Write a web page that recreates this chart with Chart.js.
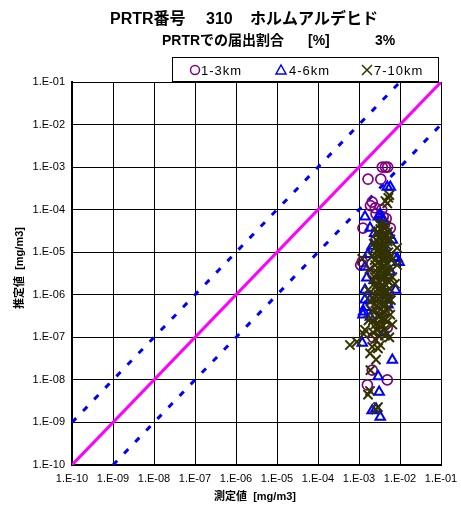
<!DOCTYPE html>
<html><head><meta charset="utf-8">
<script src="https://cdn.jsdelivr.net/npm/chart.js@4.4.1/dist/chart.umd.min.js"></script>
<style>html,body{margin:0;padding:0;background:#fff}#c{display:block}</style>
</head><body>
<canvas id="c" width="461" height="509"></canvas>
<script>
// ---- text ----
const titleParts = ['PRTR番号', '310', 'ホルムアルデヒド'];
const subtitleParts = ['PRTRでの届出割合', '[%]', '3%'];
const seriesNames = ['1-3km', '4-6km', '7-10km'];
const xAxisTitle = '測定値  [mg/m3]';
const yAxisTitle = '推定値  [mg/m3]';
const tickValues = [1e-10, 1e-9, 1e-8, 1e-7, 1e-6, 1e-5, 1e-4, 1e-3, 1e-2, 1e-1];

// ---- reference lines [x, y] ----
const lineOneToOne = [[1e-10, 1e-10], [1e-1, 1e-1]];
const lineUpperTen = [[1e-10, 1e-9], [1e-2, 1e-1]];
const lineLowerTen = [[1e-9, 1e-10], [1e-1, 1e-2]];

// ---- series: [measured, estimated] ----
const km1to3 = [
 [3.7e-3,1e-3],[4.4e-3,1e-3],[5.0e-3,1e-3],
 [1.66e-3,5.2e-4],[3.4e-3,5.2e-4],
 [2.1e-3,1.5e-4],[1.9e-3,1.25e-4],[2.5e-3,1.1e-4],[3.6e-3,1e-4],[2.6e-3,8e-5],
 [3.9e-3,6.8e-5],[4.6e-3,6.2e-5],
 [1.25e-3,3.7e-5],[5.8e-3,3.7e-5],[4.2e-3,4.5e-5],
 [2.6e-3,2e-5],[3.4e-3,1.2e-5],[4.6e-3,8e-6],[1.2e-3,6e-6],[1.1e-3,5e-6],
 [2.2e-3,3e-6],[3.9e-3,2e-6],[5.2e-3,1e-6],[2.8e-3,6e-7],[4.1e-3,4e-7],
 [4.9e-3,1.7e-7],[3.3e-3,1.4e-7],[2.2e-3,1e-7],
 [2.1e-3,1.7e-8],[4.9e-3,1e-8],[1.6e-3,7.6e-9]
];
const km4to6 = [
 [5.8e-3,3.4e-4],[4.9e-3,3.4e-4],
 [1.4e-3,6.8e-5],[2.95e-3,6.8e-5],[3.3e-3,7.8e-5],[3.7e-3,6e-5],
 [1.86e-3,3.7e-5],[3.9e-3,3.3e-5],[2.4e-3,2.8e-5],[5.5e-3,2.5e-5],[4.4e-3,2e-5],[6.5e-3,1.95e-5],
 [3.2e-3,1.6e-5],[2.1e-3,1.4e-5],[4.1e-3,1.2e-5],[1.66e-3,9e-6],
 [8.5e-3,7.2e-6],[7.3e-3,7.6e-6],[9.5e-3,5.8e-6],[1.4e-3,4.5e-6],[5.8e-3,3.5e-6],
 [1.55e-3,2.5e-6],[2.6e-3,2.2e-6],[1.4e-3,1.3e-6],[7.8e-3,1.3e-6],[4.6e-3,1e-6],
 [1.4e-3,7.6e-7],[1.86e-3,7.6e-7],[5.1e-3,5.8e-7],[1.4e-3,5.1e-7],[1.3e-3,4e-7],
 [1.25e-3,3.4e-7],[1.9e-3,3e-7],[2.9e-3,2.6e-7],[4.1e-3,1.3e-7],
 [1.2e-3,7.4e-8],[6.5e-3,2.95e-8],[2.95e-3,1.2e-8],[3.1e-3,5.2e-9],
 [2.6e-3,2.1e-9],[2.1e-3,1.9e-9],[3.3e-3,1.35e-9]
];
const km7to10 = [
 [5.5e-3,2.2e-4],[5.2e-3,1.9e-4],[4.4e-3,1.6e-4],[4.9e-3,1.4e-4],
 [3.9e-3,5e-5],[4.6e-3,4e-5],[3.3e-3,3.5e-5],[3.5e-3,3.4e-5],[5.1e-3,3e-5],[2.6e-3,2.8e-5],
 [4.1e-3,2.5e-5],[3.0e-3,2.2e-5],[4.2e-3,2.1e-5],[5.8e-3,2e-5],[3.6e-3,1.8e-5],
 [2.3e-3,1.6e-5],[3.1e-3,1.6e-5],[4.6e-3,1.5e-5],[3.3e-3,1.3e-5],[8.5e-3,1.26e-5],
 [4.3e-3,1.2e-5],[2.8e-3,1.1e-5],[3.5e-3,1e-5],[5.2e-3,1e-5],[3.9e-3,9e-6],
 [2.1e-3,8e-6],[2.9e-3,8e-6],[1.2e-3,7e-6],[4.4e-3,7e-6],[6.2e-3,6.5e-6],[3.8e-3,6.5e-6],
 [3.1e-3,6e-6],[4.9e-3,5.5e-6],[2.5e-3,5e-6],[8.5e-3,5e-6],[3.7e-3,4.5e-6],[5.5e-3,4.2e-6],
 [1.8e-3,4e-6],[3.3e-3,3.8e-6],[4.2e-3,3.6e-6],[2.9e-3,3.2e-6],[2.6e-3,3e-6],
 [3.5e-3,2.8e-6],[4.6e-3,2.8e-6],[6.5e-3,2.6e-6],[3.9e-3,2.4e-6],[2.2e-3,2.3e-6],
 [4.8e-3,2.2e-6],[3.2e-3,2e-6],[7.5e-3,1.8e-6],[2.7e-3,1.7e-6],[4e-3,1.5e-6],
 [2.9e-3,1.4e-6],[5.6e-3,1.4e-6],[1.66e-3,1.3e-6],[3.4e-3,1.2e-6],[4.2e-3,1.2e-6],
 [2.4e-3,1e-6],[3.7e-3,1e-6],[4.5e-3,9e-7],[3.1e-3,8e-7],[6e-3,7.5e-7],[1.9e-3,7e-7],
 [3.8e-3,6.5e-7],[2.7e-3,5.5e-7],[5.2e-3,5e-7],[3.3e-3,4.5e-7],[2.1e-3,4.2e-7],
 [4.3e-3,3.8e-7],[5.8e-3,3.4e-7],[2.9e-3,3.2e-7],[3.7e-3,2.8e-7],[1.7e-3,2.5e-7],
 [4.8e-3,2.3e-7],[2.5e-3,2e-7],[6.5e-3,2e-7],[3.4e-3,1.8e-7],[1.4e-3,1.5e-7],
 [4.1e-3,1.5e-7],[2.2e-3,1.3e-7],[1.3e-3,1.2e-7],[3.0e-3,1.1e-7],[5.5e-3,1e-7],
 [8.9e-4,7.8e-8],[6e-4,6.6e-8],[3.3e-3,6.6e-8],[2.9e-3,5.5e-8],[1.86e-3,4.2e-8],
 [2.6e-3,3e-8],[1.9e-3,1.7e-8],[1.86e-3,5.5e-9],[1.66e-3,4.5e-9],[2.9e-3,2.3e-9],[2.6e-3,2e-9],
 [3.2e-3,4.5e-5],[4.0e-3,3.8e-5],[2.9e-3,3e-5],[4.8e-3,2.6e-5],[3.6e-3,2.4e-5],[2.7e-3,1.9e-5],
 [4.0e-3,1.7e-5],[5.0e-3,1.8e-5],[3.8e-3,1.4e-5],[2.5e-3,1.3e-5],[3.0e-3,9.5e-6],[4.6e-3,9e-6],
 [5.8e-3,8e-6],[2.4e-3,6.5e-6],[3.4e-3,5.2e-6],[4.2e-3,4.8e-6],[2.9e-3,4.2e-6],[5.0e-3,3.4e-6],
 [3.8e-3,3e-6],[2.4e-3,2.6e-6],[3.4e-3,2.4e-6],[5.4e-3,2e-6],[2.5e-3,1.5e-6],[3.6e-3,1.6e-6],
 [4.8e-3,1.2e-6],[3e-3,1e-6],[5.2e-3,8e-7],[2.3e-3,7.8e-7],[3.5e-3,6e-7],[4.5e-3,6e-7],
 [2.5e-3,4.2e-7],[3.9e-3,4e-7],[3.1e-3,3e-7],[4.4e-3,2.7e-7],[2.2e-3,2.5e-7],[3.0e-3,2e-7],
 [3.9e-3,1.9e-7],[2.7e-3,1.5e-7],[3.5e-3,1.3e-7],[2.5e-3,9e-8],[4.3e-3,1.1e-7],[2.1e-3,6e-8]
];

const toXY = a => a.map(p => ({x: p[0], y: p[1]}));
const fmt = v => {
  const e = Math.round(Math.log10(v));
  return '1.E' + (e < 0 ? '-' : '+') + String(Math.abs(e)).padStart(2, '0');
};

const COL_CIRCLE = '#800080', COL_TRI = '#0000FF', COL_X = '#333300';
const LATIN = "'Liberation Sans', Arial, 'Noto Sans CJK JP', sans-serif";
const CJK = "'Liberation Sans', 'Noto Sans CJK JP', sans-serif";

const decor = {
  id: 'decor',
  afterDraw(chart) {
    const ctx = chart.ctx;
    ctx.save();
    ctx.fillStyle = '#000';
    ctx.textBaseline = 'middle';
    ctx.textAlign = 'left';
    // titles
    ctx.font = "bold 16px " + CJK;
    ctx.fillText(titleParts[0], 110, 20);
    ctx.fillText(titleParts[1], 206, 20);
    ctx.fillText(titleParts[2], 250, 20);
    ctx.font = "bold 14px " + CJK;
    ctx.fillText(subtitleParts[0], 162, 41);
    ctx.fillText(subtitleParts[1], 308, 41);
    ctx.fillText(subtitleParts[2], 375, 41);
    // legend box
    ctx.fillStyle = '#fff';
    ctx.fillRect(172.5, 57.5, 266, 24);
    ctx.strokeStyle = '#000';
    ctx.lineWidth = 1;
    ctx.strokeRect(172.5, 57.5, 266, 24);
    const ly = 70;
    ctx.strokeStyle = COL_CIRCLE; ctx.lineWidth = 1.5;
    ctx.beginPath(); ctx.arc(195, ly, 4.5, 0, Math.PI * 2); ctx.stroke();
    ctx.strokeStyle = COL_TRI;
    ctx.beginPath(); ctx.moveTo(281, ly - 5); ctx.lineTo(286, ly + 4); ctx.lineTo(276, ly + 4); ctx.closePath(); ctx.stroke();
    ctx.strokeStyle = COL_X;
    ctx.beginPath(); ctx.moveTo(362, ly - 5); ctx.lineTo(372, ly + 5); ctx.moveTo(372, ly - 5); ctx.lineTo(362, ly + 5); ctx.stroke();
    ctx.fillStyle = '#000';
    ctx.font = "13px " + LATIN;
    try { ctx.letterSpacing = '1px'; } catch (e) {}
    ctx.fillText(seriesNames[0], 201, ly + 1);
    ctx.fillText(seriesNames[1], 289, ly + 1);
    ctx.fillText(seriesNames[2], 374, ly + 1);
    try { ctx.letterSpacing = '0px'; } catch (e) {}
    // axis titles
    ctx.font = "bold 11px " + CJK;
    ctx.textAlign = 'center';
    ctx.fillText(xAxisTitle, 255, 497);
    ctx.translate(20, 268);
    ctx.rotate(-Math.PI / 2);
    ctx.fillText(yAxisTitle, 0, 0);
    ctx.restore();
  }
};

const axisCommon = {
  type: 'logarithmic',
  min: 1e-10, max: 1e-1,
  afterBuildTicks: s => { s.ticks = tickValues.map(v => ({value: v})); },
  grid: {color: '#000', lineWidth: 1, drawTicks: false},
  border: {color: '#000', width: 2},
};

new Chart(document.getElementById('c'), {
  type: 'scatter',
  data: {
    datasets: [
      {label: seriesNames[2], data: toXY(km7to10), order: 0, pointStyle: 'crossRot', pointRadius: 6.5, borderColor: COL_X, backgroundColor: COL_X, borderWidth: 2},
      {label: seriesNames[1], data: toXY(km4to6), order: 1, pointStyle: 'triangle', pointRadius: 5.5, borderColor: COL_TRI, backgroundColor: 'rgba(0,0,0,0)', borderWidth: 2},
      {label: seriesNames[0], data: toXY(km1to3), order: 2, pointStyle: 'circle', pointRadius: 5, borderColor: COL_CIRCLE, backgroundColor: 'rgba(0,0,0,0)', borderWidth: 1.7},
      {data: toXY(lineOneToOne), order: 3, showLine: true, pointRadius: 0, borderColor: '#FF00FF', borderWidth: 3},
      {data: toXY(lineUpperTen), order: 4, showLine: true, pointRadius: 0, borderColor: '#0000FF', borderWidth: 3, borderDash: [6, 10]},
      {data: toXY(lineLowerTen), order: 5, showLine: true, pointRadius: 0, borderColor: '#0000FF', borderWidth: 3, borderDash: [6, 10]}
    ]
  },
  options: {
    responsive: false,
    animation: false,
    devicePixelRatio: 1,
    layout: {padding: {top: 82, right: 20, left: 0, bottom: 0}},
    plugins: {legend: {display: false}, title: {display: false}, tooltip: {enabled: false}},
    scales: {
      x: Object.assign({}, axisCommon, {
        ticks: {callback: v => fmt(v), color: '#000', font: {size: 11, family: LATIN}, padding: 7, maxRotation: 0, autoSkip: false},
        afterFit: s => { s.height = 44; s.paddingLeft = 0; s.paddingRight = 0; }
      }),
      y: Object.assign({}, axisCommon, {
        ticks: {callback: v => fmt(v), color: '#000', font: {size: 11, family: LATIN}, padding: 7, autoSkip: false},
        afterFit: s => { s.width = 72; s.paddingTop = 0; s.paddingBottom = 0; }
      })
    }
  },
  plugins: [decor]
});
</script>
</body></html>
